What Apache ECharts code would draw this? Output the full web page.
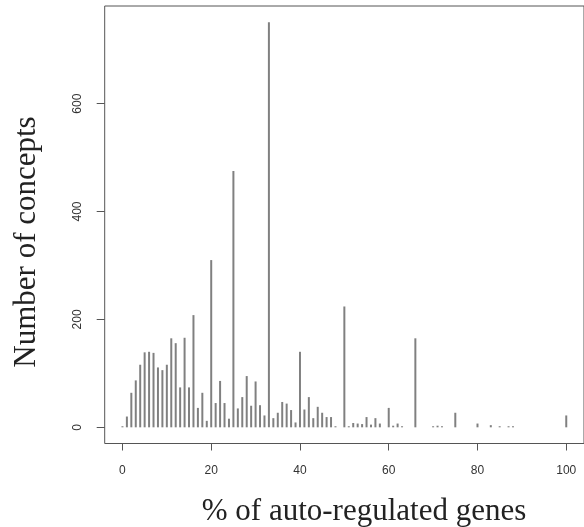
<!DOCTYPE html>
<html>
<head>
<meta charset="utf-8">
<script src="https://cdn.jsdelivr.net/npm/echarts@6/dist/echarts.min.js"></script>
<style>html,body{margin:0;padding:0;background:#fff}#c{width:584px;height:527px}</style>
</head>
<body>
<div id="c"></div>
<script>
const percents = [0,1,2,3,4,5,6,7,8,9,10,11,12,13,14,15,16,17,18,19,20,21,22,23,24,25,26,27,28,29,30,31,32,33,34,35,36,37,38,39,40,41,42,43,44,45,46,47,48,50,51,52,53,54,55,56,57,58,60,61,62,63,66,70,71,72,75,80,83,85,87,88,100];
const counts = [2,20,64,87,116,139,140,138,111,106,116,165,156,74,166,74,208,36,64,12,310,45,86,45,16,475,35,56,95,40,85,41,22,751,17,27,47,44,32,9,140,33,56,17,38,27,19,19,2,224,2,8,7,6,19,5,17,7,36,3,7,2,165,2,3,2,27,7,4,2,2,2,22];
const xTicks = [0,20,40,60,80,100];
const yTicks = [0,200,400,600];
const xTitle = '% of auto-regulated genes';
const yTitle = 'Number of concepts';

const chart = echarts.init(document.getElementById('c'), null, {renderer:'canvas'});
const data = percents.map((p,i)=>[p,counts[i]]);
chart.setOption({
  animation:false,
  backgroundColor:'#fff',
  grid:{left:104.7, top:6, width:485, height:437.5, show:true, borderColor:'#555', borderWidth:1, backgroundColor:'transparent'},
  xAxis:{type:'value', min:-4, max:104,
    axisLine:{show:false, onZero:false}, splitLine:{show:false},
    axisTick:{show:true, customValues:xTicks, length:7, inside:false, lineStyle:{color:'#555'}},
    axisLabel:{customValues:xTicks, margin:21, fontFamily:'Liberation Sans, Arial', fontSize:12, color:'#333'}},
  yAxis:{type:'value', min:-30, max:781,
    axisLine:{show:false, onZero:false}, splitLine:{show:false},
    axisTick:{show:true, customValues:yTicks, length:8, lineStyle:{color:'#555'}},
    axisLabel:{customValues:yTicks, rotate:90, align:'center', verticalAlign:'middle', margin:27, fontFamily:'Liberation Sans, Arial', fontSize:12, color:'#333'}},
  series:[{type:'bar', data:data, barWidth:2, itemStyle:{color:'#808080'}, silent:true}],
  graphic:[
    {type:'text', x:364, y:512, style:{text:xTitle, font:'31px "Liberation Serif", "Times New Roman", serif', fill:'#222', textAlign:'center', textVerticalAlign:'middle'}},
    {type:'text', x:27, y:242, rotation:Math.PI/2, style:{text:yTitle, font:'31px "Liberation Serif", "Times New Roman", serif', fill:'#222', textAlign:'center', textVerticalAlign:'middle'}}
  ]
});
</script>
</body>
</html>
